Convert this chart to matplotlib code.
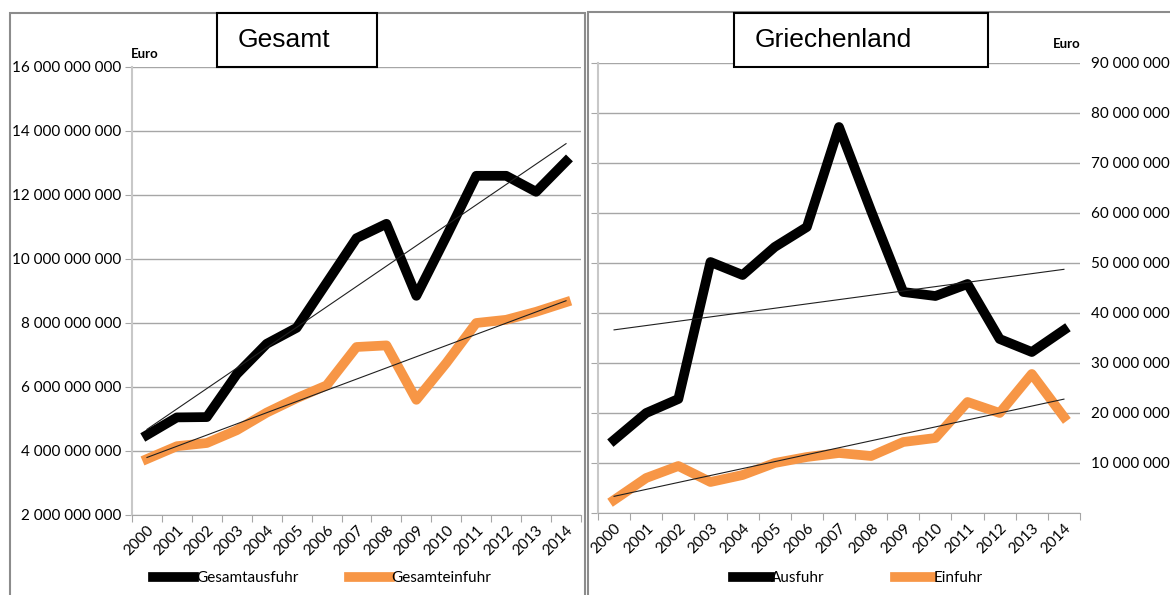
import numpy as np
import matplotlib
matplotlib.use("Agg")
import matplotlib.pyplot as plt
from matplotlib.ticker import FixedLocator, FuncFormatter
from matplotlib.patches import Rectangle

years = [str(y) for y in range(2000, 2015)]

# Gesamt (Euro)
gesamt_ausfuhr = [4.50e9, 5.05e9, 5.06e9, 6.40e9, 7.35e9, 7.85e9, 9.25e9, 10.65e9,
                  11.10e9, 8.85e9, 10.70e9, 12.60e9, 12.60e9, 12.10e9, 13.05e9]
gesamt_einfuhr = [3.75e9, 4.15e9, 4.25e9, 4.65e9, 5.20e9, 5.65e9, 6.05e9, 7.25e9,
                  7.30e9, 5.60e9, 6.75e9, 8.00e9, 8.10e9, 8.35e9, 8.65e9]

# Griechenland (Euro)
gr_ausfuhr = [14.6e6, 20.0e6, 22.8e6, 50.2e6, 47.6e6, 53.2e6, 57.2e6, 77.2e6,
              60.4e6, 44.2e6, 43.4e6, 45.8e6, 34.8e6, 32.2e6, 36.6e6]
gr_einfuhr = [2.6e6, 7.0e6, 9.4e6, 6.2e6, 7.6e6, 10.0e6, 11.2e6, 12.0e6,
              11.4e6, 14.2e6, 15.0e6, 22.2e6, 20.0e6, 27.8e6, 19.2e6]

left_ticks = [2e9, 4e9, 6e9, 8e9, 10e9, 12e9, 14e9, 16e9]
right_ticks = [0, 10e6, 20e6, 30e6, 40e6, 50e6, 60e6, 70e6, 80e6, 90e6]

ORANGE = '#F79646'
GRID = '#a6a6a6'
LW = 7

plt.rcParams['font.family'] = ['Lato', 'DejaVu Sans']

W, H = 1170, 595
fig = plt.figure(figsize=(W / 100, H / 100), dpi=100)


def fmt(v, pos):
    if v == 0:
        return ''
    return '{:,.0f}'.format(v).replace(',', ' ')


def style_axis(ax, ticks):
    x = np.arange(len(years))
    ax.set_xlim(-0.5, len(years) - 0.5)
    ax.set_ylim(ticks[0], ticks[-1])
    ax.yaxis.set_major_locator(FixedLocator(ticks))
    ax.yaxis.set_major_formatter(FuncFormatter(fmt))
    ax.grid(axis='y', color=GRID, lw=1.0)
    ax.set_axisbelow(True)
    # category borders as major ticks, labels centred as minor ticks
    ax.set_xticks(np.arange(len(years) + 1) - 0.5)
    ax.set_xticklabels([''] * (len(years) + 1))
    ax.set_xticks(x, minor=True)
    ax.set_xticklabels(years, minor=True, rotation=45, ha='right',
                       rotation_mode='anchor', fontsize=11)
    ax.tick_params(axis='x', which='minor', length=0, pad=6)
    ax.tick_params(axis='x', which='major', length=5, color=GRID)
    for s in ['top', 'right']:
        ax.spines[s].set_visible(False)
    ax.spines['left'].set_color('#c8c8c8')
    ax.spines['left'].set_linewidth(1.5)
    ax.spines['bottom'].set_color(GRID)
    ax.tick_params(axis='y', length=5, color=GRID, labelsize=11)


def trend(ax, vals):
    x = np.arange(len(vals))
    k, d = np.polyfit(x, vals, 1)
    ax.plot([x[0], x[-1]], [k * x[0] + d, k * x[-1] + d], color='#202020', lw=0.8, zorder=4)


x = np.arange(len(years))

# left: Gesamt
ax1 = fig.add_axes([132 / W, 1 - 515 / H, 449 / W, 448 / H])
style_axis(ax1, left_ticks)
ax1.tick_params(axis='y', pad=2.5)
l1, = ax1.plot(x, gesamt_ausfuhr, color='black', lw=LW, zorder=3)
l2, = ax1.plot(x, gesamt_einfuhr, color=ORANGE, lw=LW, zorder=3)
trend(ax1, gesamt_ausfuhr)
trend(ax1, gesamt_einfuhr)
ax1.legend([l1, l2], ['Gesamtausfuhr', 'Gesamteinfuhr'], ncol=2, frameon=False,
           loc='center left', bbox_to_anchor=(153 / W, 1 - 578 / H),
           bbox_transform=fig.transFigure, borderpad=0, borderaxespad=0,
           handlelength=2.7, handletextpad=0.1, columnspacing=3.3, fontsize=11)

# right: Griechenland
ax2 = fig.add_axes([598 / W, 1 - 513 / H, 482 / W, 450 / H])
style_axis(ax2, right_ticks)
ax2.tick_params(axis='y', labelleft=False, labelright=True, right=False, pad=3)
m1, = ax2.plot(x, gr_ausfuhr, color='black', lw=LW, zorder=3)
m2, = ax2.plot(x, gr_einfuhr, color=ORANGE, lw=LW, zorder=3)
trend(ax2, gr_ausfuhr)
trend(ax2, gr_einfuhr)
ax2.legend([m1, m2], ['Ausfuhr', 'Einfuhr'], ncol=2, frameon=False,
           loc='center left', bbox_to_anchor=(733 / W, 1 - 578 / H),
           bbox_transform=fig.transFigure, borderpad=0, borderaxespad=0,
           handlelength=2.4, handletextpad=0.1, columnspacing=4.6, fontsize=11)

# chart frames
fig.add_artist(Rectangle((10 / W, -0.05), 575 / W, 1.05 - 13 / H, transform=fig.transFigure,
                         fill=False, edgecolor='#8c8c8c', lw=1.5))
fig.add_artist(Rectangle((588 / W, -0.05), 0.6, 1.05 - 12 / H, transform=fig.transFigure,
                         fill=False, edgecolor='#8c8c8c', lw=1.5))

# title boxes
fig.add_artist(Rectangle((217 / W, 1 - 67 / H), 160 / W, 54 / H, transform=fig.transFigure,
                         facecolor='white', edgecolor='black', lw=1.5, zorder=5))
fig.text(238 / W, 1 - 40 / H, 'Gesamt', fontsize=19, va='center', ha='left',
         family='Liberation Sans', zorder=6)
fig.add_artist(Rectangle((734 / W, 1 - 67 / H), 254 / W, 54 / H, transform=fig.transFigure,
                         facecolor='white', edgecolor='black', lw=1.5, zorder=5))
fig.text(755 / W, 1 - 40 / H, 'Griechenland', fontsize=19, va='center', ha='left',
         family='Liberation Sans', zorder=6)

# unit labels
fig.text(131 / W, 1 - 54 / H, 'Euro', fontsize=9.5, fontweight='bold', va='center', ha='left')
fig.text(1053 / W, 1 - 44 / H, 'Euro', fontsize=9.5, fontweight='bold', va='center', ha='left')

fig.savefig('out.png', dpi=100)
